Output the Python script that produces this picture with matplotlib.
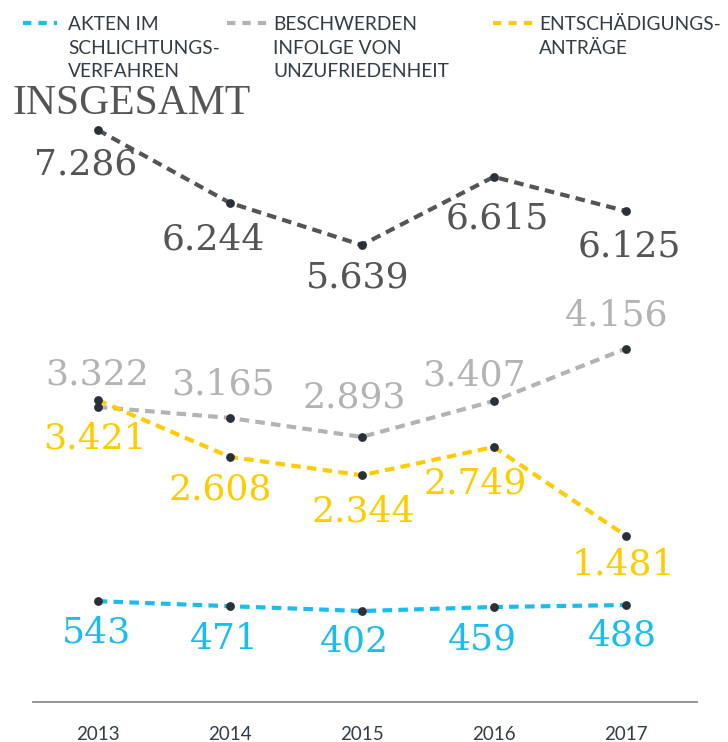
import matplotlib
matplotlib.use("Agg")
import matplotlib.pyplot as plt
from matplotlib.lines import Line2D

years = [2013, 2014, 2015, 2016, 2017]
insgesamt = [7286, 6244, 5639, 6615, 6125]
beschwerden = [3322, 3165, 2893, 3407, 4156]
entschaedigung = [3421, 2608, 2344, 2749, 1481]
akten = [543, 471, 402, 459, 488]

def fmt(v):
    return f"{v:,}".replace(",", ".")

W, H = 728, 742
fig = plt.figure(figsize=(W/100, H/100), dpi=100)
ax = fig.add_axes([33/W, 1-702/H, (697-33)/W, (702-101)/H])
ax.set_xlim(2012.51, 2017.54)
ax.set_ylim(-900, 7700)

marker_c = "#2a3038"
series = [
    (insgesamt, "#555555", [(-12, -35), (-16, -37), (-4, -32), (4, -42), (4, -35)]),
    (beschwerden, "#b3b3b3", [(-1, 32), (-7, 33), (-7, 39), (-20, 26), (-9, 33)]),
    (entschaedigung, "#ffcc00", [(-3, -38), (-10, -33), (2, -36), (-19, -37), (-2, -29)]),
    (akten, "#1bbcee", [(-1, -31), (-5, -33), (-7, -30), (-11, -32), (-3, -30)]),
]
for vals, col, offs in series:
    ax.plot(years, vals, color=col, lw=3.0, dashes=(2.3, 1.5), zorder=2)
    ax.plot(years, vals, 'o', color=marker_c, ms=5.3, zorder=3)
    for x, v, (dx, dy) in zip(years, vals, offs):
        ax.annotate(fmt(v), (x, v), xytext=(dx*0.72, dy*0.72), textcoords="offset points",
                    ha="center", va="center", fontsize=26, color=col,
                    family="DejaVu Serif", zorder=4)

for s in ["top", "left", "right"]:
    ax.spines[s].set_visible(False)
ax.spines["bottom"].set_color("#8a8d90")
ax.spines["bottom"].set_linewidth(1.3)
ax.set_yticks([])
ax.set_xticks(years)
ax.set_xticklabels([str(y) for y in years], fontsize=13.5, color="#333d45", family="Lato")
ax.tick_params(axis="x", length=0, pad=17)

# INSGESAMT title
fig.text(12/W, 1-114/H, "INSGESAMT", fontsize=30, color="#555555",
         family="Liberation Serif", ha="left", va="baseline")

# legend
leg = [
    (23, 57, 68, "#1bbcee", ["AKTEN IM", "SCHLICHTUNGS-", "VERFAHREN"]),
    (227, 268, 273, "#b3b3b3", ["BESCHWERDEN", "INFOLGE VON", "UNZUFRIEDENHEIT"]),
    (493, 535, 539, "#ffcc00", ["ENTSCHÄDIGUNGS-", "ANTRÄGE"]),
]
for x0, x1, tx, col, lines in leg:
    fig.add_artist(Line2D([x0/W, x1/W], [1-23/H, 1-23/H], color=col, lw=3.0,
                          dashes=(2.0, 1.7), transform=fig.transFigure))
    for i, t in enumerate(lines):
        fig.text(tx/W, 1-(30+23.5*i)/H, t, fontsize=13.8, color="#333d45",
                 family="Lato", ha="left", va="baseline")

fig.savefig("out.png", dpi=100)
